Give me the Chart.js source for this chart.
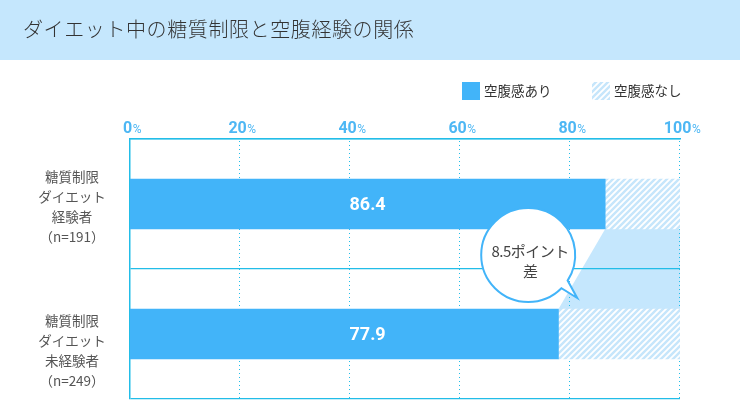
<!DOCTYPE html>
<html>
<head>
<meta charset="utf-8">
<script src="https://cdn.jsdelivr.net/npm/chart.js@4/dist/chart.umd.min.js"></script>
<style>
  html, body { margin: 0; padding: 0; background: #ffffff; }
  #wrap { width: 740px; height: 400px; }
</style>
</head>
<body>
<div id="wrap"><canvas id="c" width="740" height="400"></canvas></div>
<script>
// ---- data ----
const chartTitle = 'ダイエット中の糖質制限と空腹経験の関係';
const categories = [
  ['糖質制限', 'ダイエット', '経験者', '（n=191）'],
  ['糖質制限', 'ダイエット', '未経験者', '（n=249）']
];
const seriesLabels = ['空腹感あり', '空腹感なし'];
const withHunger = [86.4, 77.9];
const withoutHunger = [13.6, 22.1];
const tickValues = [0, 20, 40, 60, 80, 100];
const diffLabel = ['8.5ポイント', '差'];

// ---- styles ----
const JP = '"Noto Sans CJK JP", "Noto Sans", sans-serif';
const BLUE = '#42b4f9';
const LIGHT = '#c5e7fd';
const AXIS = '#22bde8';
const TICKBLUE = '#4db7f4';

function makeHatch() {
  const s = 6;
  const c = document.createElement('canvas');
  c.width = s; c.height = s;
  const g = c.getContext('2d');
  g.fillStyle = '#ffffff';
  g.fillRect(0, 0, s, s);
  g.strokeStyle = '#c6e6fb';
  g.lineWidth = 2.4;
  g.beginPath();
  g.moveTo(-1, 1); g.lineTo(1, -1);
  g.moveTo(0, s); g.lineTo(s, 0);
  g.moveTo(s - 1, s + 1); g.lineTo(s + 1, s - 1);
  g.stroke();
  return document.getElementById('c').getContext('2d').createPattern(c, 'repeat');
}
const hatch = makeHatch();

const decor = {
  id: 'decor',
  beforeDraw(chart) {
    const ctx = chart.ctx;
    const x = chart.scales.x;
    ctx.save();
    // header band
    ctx.fillStyle = LIGHT;
    ctx.fillRect(0, 0, chart.width, 60);
    ctx.fillStyle = '#333333';
    ctx.font = '300 20px ' + JP;
    ctx.letterSpacing = '0.6px';
    ctx.textBaseline = 'middle';
    ctx.textAlign = 'left';
    ctx.fillText(chartTitle, 23, 29);
    ctx.letterSpacing = '0px';
    // connector polygon between the two bars
    const m0 = chart.getDatasetMeta(0);
    const b0 = m0.data[0], b1 = m0.data[1];
    const h0 = b0.height, h1 = b1.height;
    const right = x.getPixelForValue(100);
    ctx.fillStyle = LIGHT;
    ctx.beginPath();
    ctx.moveTo(b0.x, b0.y + h0 / 2);
    ctx.lineTo(right, b0.y + h0 / 2);
    ctx.lineTo(right, b1.y - h1 / 2);
    ctx.lineTo(b1.x, b1.y - h1 / 2);
    ctx.closePath();
    ctx.fill();
    ctx.restore();
  },
  beforeDatasetsDraw(chart) {
    const ctx = chart.ctx;
    const x = chart.scales.x;
    const a = chart.chartArea;
    ctx.save();
    ctx.strokeStyle = AXIS;
    ctx.lineWidth = 1;
    ctx.setLineDash([1, 3]);
    tickValues.forEach(v => {
      if (v === 0) return;
      const px = Math.round(x.getPixelForValue(v)) - 0.5;
      ctx.beginPath();
      ctx.moveTo(px, a.top + 2);
      ctx.lineTo(px, a.bottom);
      ctx.stroke();
    });
    ctx.restore();
  },
  afterDatasetsDraw(chart) {
    const ctx = chart.ctx;
    const x = chart.scales.x;
    const m0 = chart.getDatasetMeta(0);
    ctx.save();
    // value labels
    ctx.fillStyle = '#ffffff';
    ctx.font = 'bold 18px Roboto, sans-serif';
    ctx.textAlign = 'center';
    ctx.textBaseline = 'middle';
    const lx = x.getPixelForValue(Math.max(...withHunger) / 2);
    withHunger.forEach((v, i) => {
      ctx.fillText(v.toFixed(1), lx, m0.data[i].y + 1);
    });
    // speech bubble
    const b0 = m0.data[0], b1 = m0.data[1];
    const midY = (b0.y + b1.y) / 2;
    const cx = x.getPixelForValue(72.4);
    const cy = midY - 14;
    const r = 47;
    const a1 = 45 * Math.PI / 180, a2 = 33 * Math.PI / 180;
    ctx.beginPath();
    ctx.arc(cx, cy, r, a1, a2 + Math.PI * 2);
    ctx.lineTo(cx + 49, cy + 43);
    ctx.closePath();
    ctx.fillStyle = '#ffffff';
    ctx.fill();
    ctx.strokeStyle = BLUE;
    ctx.lineWidth = 2;
    ctx.lineJoin = 'miter';
    ctx.stroke();
    ctx.fillStyle = '#444444';
    ctx.font = '15px ' + JP;
    ctx.letterSpacing = '-0.5px';
    ctx.fillText(diffLabel[0], cx + 2, cy - 4);
    ctx.fillText(diffLabel[1], cx + 2, cy + 16);
    ctx.letterSpacing = '0px';
    ctx.restore();
  },
  afterDraw(chart) {
    const ctx = chart.ctx;
    const x = chart.scales.x, y = chart.scales.y;
    ctx.save();
    // x tick labels (number + small %)
    ctx.textBaseline = 'alphabetic';
    ctx.fillStyle = TICKBLUE;
    tickValues.forEach(v => {
      const px = x.getPixelForValue(v);
      const num = String(v);
      ctx.font = 'bold 16px Roboto, sans-serif';
      const wn = ctx.measureText(num).width;
      ctx.font = '12px Roboto, sans-serif';
      const wp = ctx.measureText('%').width;
      const start = px - (wn + wp) / 2 + 2;
      ctx.textAlign = 'left';
      ctx.font = 'bold 16px Roboto, sans-serif';
      ctx.fillText(num, start, 133);
      ctx.font = '12px Roboto, sans-serif';
      ctx.fillText('%', start + wn + 0.5, 133);
    });
    // category labels
    const offs = [3, 17];
    ctx.fillStyle = '#555555';
    ctx.font = '13.5px ' + JP;
    ctx.textAlign = 'center';
    ctx.textBaseline = 'middle';
    categories.forEach((lines, i) => {
      const cyy = y.getPixelForValue(i) + offs[i];
      const lh = 20;
      lines.forEach((t, k) => {
        ctx.fillText(t, 72, cyy + (k - (lines.length - 1) / 2) * lh);
      });
    });
    // legend
    const ds = chart.data.datasets;
    const lgx = [462, 592];
    ctx.font = '13.5px ' + JP;
    ctx.textAlign = 'left';
    ds.forEach((d, i) => {
      ctx.fillStyle = d.backgroundColor;
      ctx.fillRect(lgx[i], 82, 18, 18);
      ctx.fillStyle = '#333333';
      ctx.fillText(d.label, lgx[i] + 22, 91);
    });
    ctx.restore();
  }
};

new Chart(document.getElementById('c'), {
  type: 'bar',
  data: {
    labels: categories.map(l => l.join(' ')),
    datasets: [
      { label: seriesLabels[0], data: withHunger, backgroundColor: BLUE, barThickness: 50, borderWidth: 0 },
      { label: seriesLabels[1], data: withoutHunger, backgroundColor: hatch, barThickness: 50, borderWidth: 0 }
    ]
  },
  options: {
    indexAxis: 'y',
    responsive: false,
    animation: false,
    devicePixelRatio: 1,
    layout: { padding: { left: 130, right: 60, top: 139, bottom: 1 } },
    plugins: { legend: { display: false }, tooltip: { enabled: false }, title: { display: false } },
    scales: {
      x: {
        position: 'top', min: 0, max: 100, stacked: true,
        ticks: { display: false, stepSize: 20 },
        grid: { display: false, drawTicks: false },
        border: { display: true, color: AXIS, width: 1.5 }
      },
      y: {
        stacked: true,
        ticks: { display: false },
        grid: { display: true, drawTicks: false, color: AXIS, lineWidth: 1.2, offset: true },
        border: { display: true, color: AXIS, width: 1.5 }
      }
    }
  },
  plugins: [decor]
});
</script>
</body>
</html>
